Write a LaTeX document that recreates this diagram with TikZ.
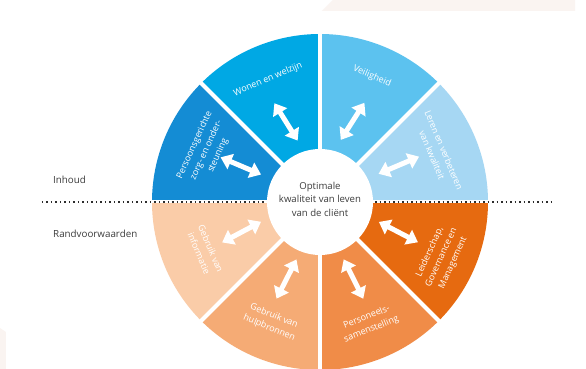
\documentclass[tikz,border=0pt]{standalone}
\usepackage{fontspec}
\setmainfont{Open Sans}
\usetikzlibrary{arrows.meta}

\definecolor{cPers}{RGB}{20,140,212}
\definecolor{cWonen}{RGB}{0,168,228}
\definecolor{cVeilig}{RGB}{92,194,239}
\definecolor{cLeren}{RGB}{166,215,243}
\definecolor{cLeider}{RGB}{230,106,16}
\definecolor{cPersoneel}{RGB}{240,140,72}
\definecolor{cHulp}{RGB}{245,171,117}
\definecolor{cInfo}{RGB}{250,204,168}
\definecolor{txtgray}{RGB}{60,60,60}
\definecolor{dotgray}{RGB}{45,45,45}
\definecolor{haze}{RGB}{250,244,241}

% white double-headed arrow: name, polar centre angle, distance, direction
\newcommand\twoway[4]{%
  \coordinate (#1a) at ([shift={(#2:#3)}]{#4+180}:22);
  \coordinate (#1b) at ([shift={(#2:#3)}]#4:22);
  \draw[arrowstyle] (#1a) -- (#1b);}
% sector caption: name, polar angle, radius, text (upper half reads clockwise)
\newcommand\uppercaption[4]{%
  \node[seclabel, rotate={#2-90}] (#1) at (#2:#3) {#4};}
\newcommand\lowercaption[4]{%
  \node[seclabel, rotate={#2+90}] (#1) at (#2:#3) {#4};}

\tikzset{
  gap/.style={white, line width=4pt},
  arrowstyle/.style={white, line width=5pt,
    {Triangle[length=11pt,width=16pt]}-{Triangle[length=11pt,width=16pt]}},
  seclabel/.style={text=white, align=center, inner sep=0pt,
    font=\fontsize{9}{12.8}\selectfont},
  sidelabel/.style={text=txtgray, font=\fontsize{9.8}{11}\selectfont, anchor=west, inner sep=0pt},
  dotline/.style={dotgray, line width=1.5pt, dash pattern=on 1.5pt off 3pt},
}

\begin{document}
\begin{tikzpicture}[x=1pt,y=1pt]
\useasboundingbox (-320,-167) rectangle (266,202);
\fill[white] (-320,-167) rectangle (266,202);

% faint paper tints at the edges
\fill[haze] (2,191) -- (13,202) -- (255,202) -- (255,191) -- cycle;
\fill[haze] (-320,-126) -- (-314,-130) -- (-314,-167) -- (-320,-167) -- cycle;

% the eight sectors
\fill[cVeilig]    (0,0) -- (45:168)  arc[start angle=45,  end angle=90,  radius=168] -- cycle;
\fill[cWonen]     (0,0) -- (90:168)  arc[start angle=90,  end angle=135, radius=168] -- cycle;
\fill[cPers]      (0,0) -- (135:168) arc[start angle=135, end angle=180, radius=168] -- cycle;
\fill[cInfo]      (0,0) -- (180:168) arc[start angle=180, end angle=225, radius=168] -- cycle;
\fill[cHulp]      (0,0) -- (225:168) arc[start angle=225, end angle=270, radius=168] -- cycle;
\fill[cPersoneel] (0,0) -- (270:168) arc[start angle=270, end angle=315, radius=168] -- cycle;
\fill[cLeider]    (0,0) -- (315:168) arc[start angle=315, end angle=360, radius=168] -- cycle;
\fill[cLeren]     (0,0) -- (0:168)   arc[start angle=0,   end angle=45,  radius=168] -- cycle;

% white spokes between the sectors
\foreach \a in {45,90,135,225,270,315}
  \draw[gap] (0,0) -- (\a:172);
\draw[white, line width=3pt] (-172,0) -- (172,0);

% dotted divider between content and preconditions
\draw[dotline] (-278,0) -- (232,0);

% hub
\node[circle, fill=white, minimum size=106pt, inner sep=0pt] (hub) at (0,0) {};
\node[align=center, inner sep=0pt, text=txtgray,
      font=\fontsize{9.6}{13.5}\selectfont] (hubtext) at (0,3)
  {Optimale\\kwaliteit van leven\\van de cliënt};

% row captions
\node[sidelabel] (inhoud) at (-267,22) {Inhoud};
\node[sidelabel] (rand) at (-267,-32) {Randvoorwaarden};

% arrows
\twoway{wonen}{113}{87}{122}
\twoway{veilig}{68}{87}{57.5}
\twoway{leren}{25}{87}{23}
\twoway{pers}{155.5}{87}{157}
\twoway{info}{201}{84}{208}
\twoway{hulp}{246.5}{84}{243}
\twoway{personeel}{293.5}{84}{296.5}
\twoway{leider}{-21}{84}{-27.5}

% sector captions
\uppercaption{tWonen}{113}{133}{Wonen en welzijn}
\uppercaption{tVeilig}{67.5}{136}{Veiligheid}
\uppercaption{tLeren}{22.7}{128}{Leren en verbeteren\\van kwaliteit}
\uppercaption{tPers}{155.5}{125}{Persoonsgerichte\\zorg- en onder-\\steuning}
\lowercaption{tInfo}{203}{125}{Gebruik van\\informatie}
\lowercaption{tHulp}{248}{129.5}{Gebruik van\\hulpbronnen}
\lowercaption{tPersoneel}{292}{131}{Personeels-\\samenstelling}
\lowercaption{tLeider}{-24.5}{133.5}{Leiderschap,\\Governance en\\Management}
\end{tikzpicture}
\end{document}
